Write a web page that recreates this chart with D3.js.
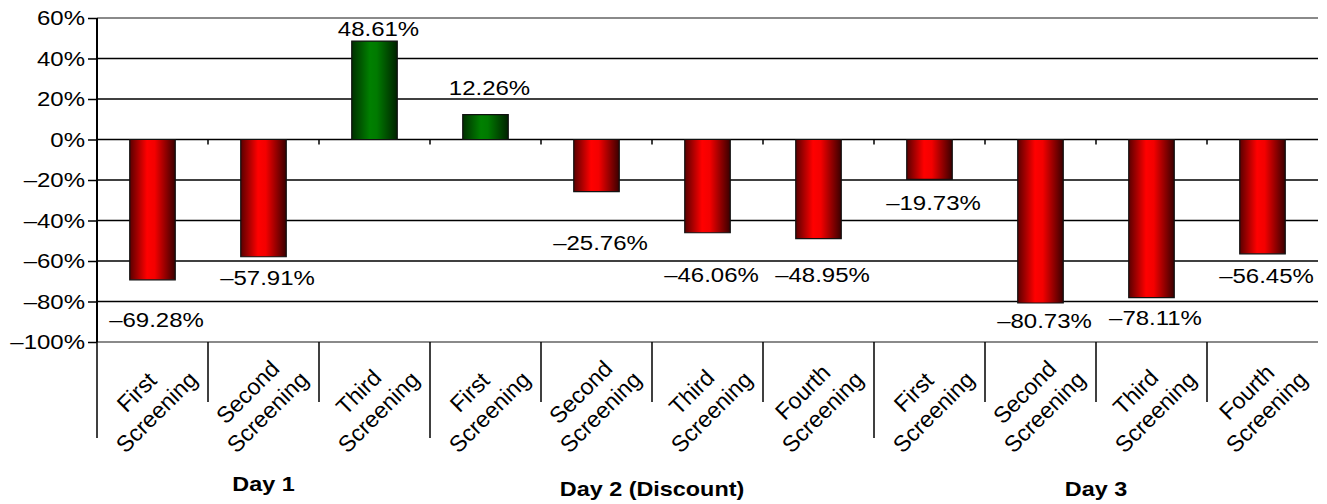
<!DOCTYPE html>
<html>
<head>
<meta charset="utf-8">
<script src="https://cdn.jsdelivr.net/npm/d3@7"></script>
<style>
  html, body { margin: 0; padding: 0; background: #fff; }
  svg { display: block; }
  text { font-family: "Liberation Sans", Arial, Helvetica, sans-serif; fill: #000; }
</style>
</head>
<body>
<svg id="chart"></svg>
<script>
// ---------- DATA ----------
const categoryFirst = ["First", "Second", "Third", "First", "Second", "Third", "Fourth", "First", "Second", "Third", "Fourth"];
const categorySecond = ["Screening", "Screening", "Screening", "Screening", "Screening", "Screening", "Screening", "Screening", "Screening", "Screening", "Screening"];
const values = [-69.28, -57.91, 48.61, 12.26, -25.76, -46.06, -48.95, -19.73, -80.73, -78.11, -56.45];
const groups = ["Day 1", "Day 2 (Discount)", "Day 3"];
const groupStart = [0, 3, 7];
const groupEnd = [2, 6, 10];
const yTicks = [60, 40, 20, 0, -20, -40, -60, -80, -100];

// ---------- LAYOUT (not data) ----------
// value-label baselines, in axis units (placed by hand in the original)
const labelBaseline = [-92.6, -71.9, 51.1, 22.0, -54.6, -70.4, -70.4, -34.8, -93.1, -91.6, -70.9];

const W = 1327, H = 504;
const S = 1.17;                 // horizontal stretch of the original artwork
const VW = W / S;
const X = px => px / S;

const svg = d3.select("#chart")
  .attr("width", W).attr("height", H)
  .attr("viewBox", `0 0 ${VW} ${H}`)
  .attr("preserveAspectRatio", "none");

const defs = svg.append("defs");
function grad(id, stops) {
  const g = defs.append("linearGradient").attr("id", id)
    .attr("x1", 0).attr("x2", 1).attr("y1", 0).attr("y2", 0);
  stops.forEach(([o, c]) => g.append("stop").attr("offset", o).attr("stop-color", c));
}
grad("redGrad", [[0, "#5a0000"], [0.38, "#ff0000"], [0.55, "#f40000"], [1, "#3a0000"]]);
grad("greenGrad", [[0, "#003000"], [0.4, "#008000"], [0.55, "#007a00"], [1, "#002200"]]);

const pLeft = 97, pRight = 1318, pTop = 18, pBottom = 342;
const idx = values.map((_, i) => i);

const xCat = d3.scaleBand().domain(idx).range([X(pLeft), X(pRight)]).padding(0);
const xBar = d3.scaleBand().domain(idx).range([X(pLeft), X(pRight)])
  .paddingInner(0.59).paddingOuter(0.295);
const y = d3.scaleLinear().domain([-100, 60]).range([pBottom, pTop]);

// gridlines
svg.append("g").selectAll("line").data(yTicks).join("line")
  .attr("x1", X(pLeft)).attr("x2", X(pRight))
  .attr("y1", d => y(d)).attr("y2", d => y(d))
  .attr("stroke", d => (d === 60 || d === -100) ? "#8a8a8a" : "#000")
  .attr("stroke-width", d => (d === 60 || d === -100) ? 2.2 : 1.5)
  .attr("vector-effect", "non-scaling-stroke");

// y axis
const yAxis = d3.axisLeft(y).tickValues(yTicks)
  .tickFormat(d => (d < 0 ? "\u2013" : "") + Math.abs(d) + "%")
  .tickSize(X(9)).tickPadding(X(3));
const ya = svg.append("g").attr("transform", `translate(${X(pLeft)},0)`).call(yAxis);
ya.select(".domain").remove();
ya.selectAll(".tick line").attr("stroke", "#000").attr("stroke-width", 1.5)
  .attr("vector-effect", "non-scaling-stroke");
ya.selectAll(".tick text").attr("font-size", 20.5)
  .attr("font-family", '"Liberation Sans", Arial, Helvetica, sans-serif').attr("fill", "#000");
svg.append("line").attr("x1", X(pLeft)).attr("x2", X(pLeft))
  .attr("y1", y(60)).attr("y2", y(-100))
  .attr("stroke", "#000").attr("stroke-width", 2).attr("vector-effect", "non-scaling-stroke");

// small ticks on the zero line at category boundaries
svg.append("g").selectAll("line").data(idx.slice(1)).join("line")
  .attr("x1", d => xCat(d)).attr("x2", d => xCat(d))
  .attr("y1", y(0)).attr("y2", y(0) + 5)
  .attr("stroke", "#000").attr("stroke-width", 1.5)
  .attr("vector-effect", "non-scaling-stroke");

// bars
svg.append("g").selectAll("rect").data(values).join("rect")
  .attr("x", (d, i) => xBar(i))
  .attr("width", xBar.bandwidth())
  .attr("y", d => y(Math.max(0, d)))
  .attr("height", d => Math.abs(y(d) - y(0)))
  .attr("fill", d => d >= 0 ? "url(#greenGrad)" : "url(#redGrad)")
  .attr("stroke", "#111").attr("stroke-width", 1.2)
  .attr("vector-effect", "non-scaling-stroke");

// value labels
svg.append("g").selectAll("text").data(values).join("text")
  .attr("x", (d, i) => xBar(i) + xBar.bandwidth() / 2 + X(4))
  .attr("y", (d, i) => y(labelBaseline[i]))
  .attr("text-anchor", "middle").attr("font-size", 20.5)
  .text(d => (d < 0 ? "\u2013" : "") + Math.abs(d).toFixed(2) + "%");

// category separators below the axis
const isGroupStart = i => groupStart.includes(i);
svg.append("g").selectAll("line").data(idx).join("line")
  .attr("x1", d => xCat(d)).attr("x2", d => xCat(d))
  .attr("y1", pBottom).attr("y2", d => isGroupStart(d) ? 438 : 402)
  .attr("stroke", "#000").attr("stroke-width", 1.5)
  .attr("vector-effect", "non-scaling-stroke");

// category labels, rotated 45° (not stretched)
const catG = svg.append("g").selectAll("g").data(idx).join("g")
  .attr("transform", d => `translate(${xCat(d) + xCat.bandwidth() / 2 - X(6)},402) scale(${1 / S},1) rotate(-45)`);
catG.append("text").attr("text-anchor", "middle").attr("font-size", 23)
  .attr("y", -6).text(d => categoryFirst[d]);
catG.append("text").attr("text-anchor", "middle").attr("font-size", 23)
  .attr("y", 22).text(d => categorySecond[d]);

// group labels
svg.append("g").selectAll("text").data(groups).join("text")
  .attr("x", (d, i) => (xCat(groupStart[i]) + xCat(groupEnd[i]) + xCat.bandwidth()) / 2)
  .attr("y", (d, i) => i === 0 ? 491 : 496)
  .attr("text-anchor", "middle").attr("font-size", 20).attr("font-weight", "bold")
  .text(d => d);
</script>
</body>
</html>
